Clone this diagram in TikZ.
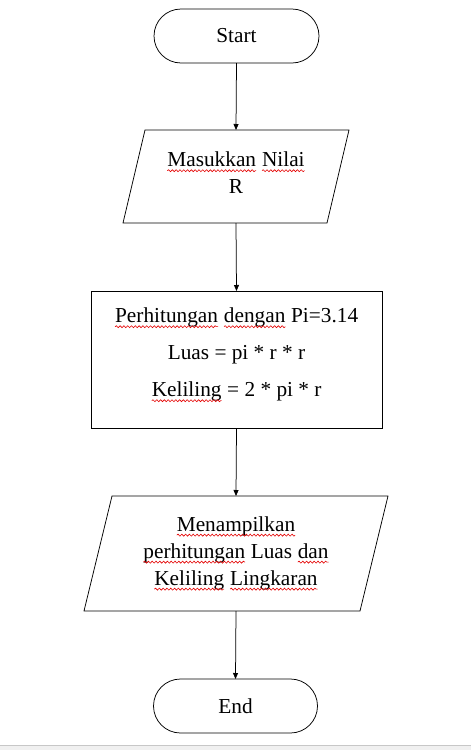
\documentclass[tikz,border=0pt]{standalone}
\usepackage{fontspec}
\setmainfont{Liberation Serif}
\usetikzlibrary{shapes.misc,arrows.meta,decorations.pathmorphing}
\newcommand\sq[1]{\tikz[baseline=(w.base),x=1pt,y=1pt]{\node[shape=rectangle,draw=none,fill=none,minimum width=0pt,minimum height=0pt,inner sep=0pt,outer sep=0pt](w){#1};\draw[red!90!black,line width=0.6pt,decorate,decoration={snake,amplitude=1pt,segment length=3.8pt}]([yshift=-3.8pt]w.base west) -- ([yshift=-3.8pt]w.base east);}}
\begin{document}
\begin{tikzpicture}[x=1pt,y=-1pt,
  lbl/.style={font=\fontsize{21.3}{27}\selectfont, align=center, inner sep=0pt, outer sep=0pt},
  term/.style={lbl, draw, rounded rectangle, line width=0.75pt, minimum width=165pt, minimum height=54pt},
  iobox/.style={lbl, minimum height=#1},
  procbox/.style={lbl, draw, line width=0.75pt, minimum width=291pt, minimum height=137pt},
  arr/.style={line width=0.75pt, -{Triangle[width=5pt,length=6pt]}}]
\useasboundingbox (0,0) rectangle (471,750);
\fill[white] (0,0) rectangle (471,745);
\fill[black!6] (0,745) rectangle (471,750);
\draw[black!22, line width=0.8pt] (0,745.4) -- (471,745.4);

\node[term] (start) at (236.5,36) {Start};
\node[iobox=93pt, minimum width=226pt] (in) at (236,176.5) {\sq{Masukkan} \sq{Nilai}\\R\\[-20pt]\mbox{}};
\draw[line width=0.75pt] (in.south west) -- ([xshift=22pt]in.north west) -- (in.north east) -- ([xshift=-22pt]in.south east) -- cycle;
\node[procbox] (proc) at (236.5,359.5) {\sq{Perhitungan} \sq{dengan} Pi=3.14\\[10pt]Luas = pi * r * r\\[10pt]\sq{Keliling} = 2 * pi * r\\[-13pt]\mbox{}};
\node[iobox=115pt, minimum width=304pt] (out) at (236,553.5) {\sq{Menampilkan}\\\sq{perhitungan} Luas \sq{dan}\\\sq{Keliling} \sq{Lingkaran}};
\draw[line width=0.75pt] (out.south west) -- ([xshift=28pt]out.north west) -- (out.north east) -- ([xshift=-28pt]out.south east) -- cycle;
\node[term, minimum width=164pt] (end) at (235.5,706) {End};

\draw[arr] (start.south) -- (in.north);
\draw[arr] (in.south) -- (proc.north);
\draw[arr] (proc.south) -- (out.north);
\draw[arr] (out.south) -- (end.north);
\end{tikzpicture}
\end{document}
